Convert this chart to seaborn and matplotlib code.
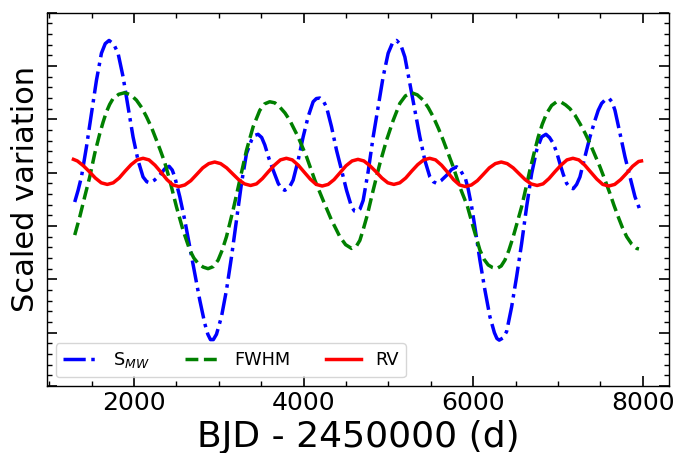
import matplotlib
matplotlib.use("Agg")
import matplotlib.pyplot as plt
import seaborn as sns
import pandas as pd
from matplotlib.ticker import MultipleLocator

# ---- data ----
smw_days = [1300, 1340, 1379, 1438, 1497, 1556, 1615, 1660, 1705, 1760,
            1811, 1870, 1929, 1988, 2047, 2106, 2150, 2185, 2240, 2303,
            2360, 2413, 2450, 2480, 2539, 2598, 2657, 2716, 2775, 2834,
            2870, 2901, 2935, 2972, 3031, 3090, 3149, 3208, 3267, 3326,
            3385, 3425, 3463, 3505, 3542, 3590, 3640, 3700, 3740, 3778,
            3830, 3876, 3935, 3994, 4053, 4112, 4150, 4191, 4230, 4270,
            4329, 4388, 4447, 4506, 4565, 4600, 4630, 4665, 4702, 4761,
            4820, 4879, 4938, 4997, 5050, 5096, 5145, 5194, 5253, 5312,
            5371, 5430, 5489, 5530, 5568, 5620, 5686, 5745, 5804, 5840,
            5880, 5910, 5940, 5980, 6020, 6079, 6138, 6197, 6250, 6280,
            6307, 6350, 6394, 6453, 6512, 6571, 6630, 6689, 6748, 6807,
            6858, 6900, 6944, 6985, 7023, 7062, 7102, 7140, 7180, 7220,
            7259, 7318, 7377, 7436, 7475, 7515, 7560, 7605, 7640, 7672,
            7731, 7790, 7849, 7908, 7967]
smw = [-0.55, -0.33, -0.08, 0.48, 1.11, 1.73, 2.24, 2.42, 2.48, 2.41,
       2.24, 1.80, 1.23, 0.67, 0.23, -0.08, -0.17, -0.19, -0.14, -0.05,
       0.07, 0.12, 0.05, -0.08, -0.45, -0.89, -1.39, -1.89, -2.39, -2.83,
       -3.03, -3.13, -3.13, -3.03, -2.70, -2.20, -1.58, -0.89, -0.20, 0.36,
       0.61, 0.70, 0.72, 0.66, 0.52, 0.27, 0.05, -0.20, -0.30, -0.33,
       -0.28, -0.14, 0.23, 0.67, 1.05, 1.33, 1.39, 1.40, 1.35, 1.23,
       0.86, 0.42, 0.05, -0.33, -0.64, -0.72, -0.73, -0.68, -0.52, 0.02,
       0.67, 1.23, 1.80, 2.24, 2.44, 2.48, 2.40, 2.17, 1.67, 1.17,
       0.67, 0.23, -0.08, -0.17, -0.20, -0.15, -0.05, 0.06, 0.11, 0.07,
       -0.04, -0.12, -0.30, -0.62, -1.02, -1.64, -2.20, -2.70, -3.00, -3.11,
       -3.14, -3.10, -2.98, -2.52, -1.95, -1.33, -0.64, -0.02, 0.42, 0.67,
       0.72, 0.66, 0.55, 0.38, 0.17, -0.03, -0.20, -0.28, -0.30, -0.22,
       -0.08, 0.30, 0.67, 0.98, 1.17, 1.30, 1.37, 1.39, 1.32, 1.17,
       0.74, 0.30, -0.08, -0.45, -0.70]

fwhm_days = [1300, 1359, 1418, 1477, 1536, 1595, 1635, 1674, 1712, 1752,
             1820, 1890, 1960, 2028, 2090, 2146, 2205, 2264, 2310, 2362,
             2421, 2500, 2578, 2657, 2705, 2755, 2815, 2873, 2935, 2991,
             3040, 3090, 3168, 3247, 3326, 3404, 3483, 3540, 3600, 3660,
             3719, 3780, 3837, 3935, 4034, 4132, 4230, 4329, 4380, 4427,
             4495, 4565, 4625, 4663, 4700, 4750, 4820, 4899, 4978, 5056,
             5135, 5200, 5273, 5340, 5410, 5470, 5528, 5590, 5646, 5705,
             5764, 5843, 5880, 5930, 6000, 6079, 6130, 6177, 6230, 6276,
             6330, 6374, 6420, 6472, 6520, 6571, 6620, 6669, 6720, 6767,
             6815, 6866, 6925, 6984, 7040, 7090, 7141, 7200, 7259, 7320,
             7377, 7436, 7495, 7555, 7613, 7660, 7711, 7760, 7810, 7870,
             7928, 7955]
fwhm = [-1.17, -0.83, -0.45, -0.08, 0.36, 0.73, 0.95, 1.14, 1.28, 1.39,
        1.47, 1.50, 1.46, 1.36, 1.22, 1.05, 0.85, 0.61, 0.42, 0.19,
        -0.14, -0.64, -1.08, -1.45, -1.60, -1.70, -1.77, -1.80, -1.76, -1.64,
        -1.45, -1.20, -0.70, -0.14, 0.42, 0.86, 1.17, 1.29, 1.33, 1.31,
        1.23, 1.12, 0.98, 0.67, 0.30, -0.14, -0.52, -0.89, -1.05, -1.20,
        -1.35, -1.42, -1.37, -1.27, -1.08, -0.80, -0.33, 0.17, 0.61, 0.98,
        1.30, 1.44, 1.50, 1.46, 1.36, 1.22, 1.05, 0.83, 0.61, 0.36,
        0.11, -0.27, -0.42, -0.62, -1.02, -1.45, -1.63, -1.73, -1.78, -1.80,
        -1.75, -1.64, -1.46, -1.20, -0.93, -0.64, -0.30, 0.05, 0.38, 0.67,
        0.91, 1.11, 1.26, 1.33, 1.32, 1.27, 1.20, 1.08, 0.92, 0.74,
        0.55, 0.33, 0.11, -0.14, -0.39, -0.61, -0.83, -1.03, -1.20, -1.34,
        -1.42, -1.43]

rv_days = [1285, 1331, 1402, 1472, 1543, 1613, 1684, 1754, 1824, 1895, 1965, 2036,
           2106, 2176, 2247, 2317, 2388, 2458, 2529, 2599, 2669, 2740, 2810, 2881,
           2951, 3021, 3092, 3162, 3233, 3303, 3374, 3444, 3514, 3585, 3655, 3726,
           3796, 3866, 3937, 4007, 4078, 4148, 4219, 4289, 4359, 4430, 4500, 4571,
           4641, 4711, 4782, 4852, 4923, 4993, 5064, 5134, 5204, 5275, 5345, 5416,
           5486, 5556, 5627, 5697, 5768, 5838, 5909, 5979, 6049, 6120, 6190, 6261,
           6331, 6401, 6472, 6542, 6613, 6683, 6754, 6824, 6894, 6965, 7035, 7106,
           7176, 7246, 7317, 7387, 7458, 7528, 7599, 7669, 7739, 7810, 7880, 7951,
           7985]
rv = [0.25, 0.22, 0.13, 0.02, -0.10, -0.19, -0.22, -0.19, -0.10, 0.03, 0.15, 0.24,
      0.27, 0.24, 0.14, 0.01, -0.13, -0.23, -0.26, -0.23, -0.15, -0.03, 0.09, 0.17,
      0.20, 0.17, 0.09, -0.02, -0.13, -0.21, -0.24, -0.21, -0.11, 0.02, 0.14, 0.24,
      0.27, 0.24, 0.14, 0.01, -0.12, -0.22, -0.25, -0.22, -0.13, 0.00, 0.13, 0.22,
      0.25, 0.22, 0.13, 0.02, -0.10, -0.19, -0.22, -0.19, -0.10, 0.03, 0.15, 0.24,
      0.27, 0.24, 0.14, 0.01, -0.13, -0.23, -0.26, -0.23, -0.15, -0.03, 0.09, 0.17,
      0.20, 0.17, 0.09, -0.02, -0.13, -0.21, -0.24, -0.21, -0.11, 0.02, 0.14, 0.24,
      0.27, 0.24, 0.14, 0.01, -0.12, -0.22, -0.25, -0.22, -0.13, -0.01, 0.12, 0.21,
      0.22]

labels = [r'S$_{MW}$', 'FWHM', 'RV']
x_label = 'BJD - 2450000 (d)'
y_label = 'Scaled variation'

df_smw = pd.DataFrame({'day': smw_days, 'value': smw})
df_fwhm = pd.DataFrame({'day': fwhm_days, 'value': fwhm})
df_rv = pd.DataFrame({'day': rv_days, 'value': rv})

plt.rcParams['font.family'] = ['DejaVu Sans']
plt.rcParams['axes.edgecolor'] = 'black'
plt.rcParams['text.color'] = 'black'

fig = plt.figure(figsize=(6.78, 4.53), dpi=100)
ax = fig.add_axes([47 / 678, 1 - 386 / 453, (669.3 - 47) / 678, (386 - 12.7) / 453])

sns.lineplot(data=df_smw, x='day', y='value', ax=ax, color='blue', linestyle='-.',
             linewidth=2.5, label=labels[0], estimator=None, sort=False)
sns.lineplot(data=df_fwhm, x='day', y='value', ax=ax, color='green', linestyle='--',
             linewidth=2.5, label=labels[1], estimator=None, sort=False)
sns.lineplot(data=df_rv, x='day', y='value', ax=ax, color='red', linestyle='-',
             linewidth=2.5, label=labels[2], estimator=None, sort=False)

ax.set_xlim(973, 8313)
ax.set_ylim(-4, 3)
ax.xaxis.set_major_locator(MultipleLocator(2000))
ax.xaxis.set_minor_locator(MultipleLocator(500))
ax.yaxis.set_major_locator(MultipleLocator(1))
ax.yaxis.set_minor_locator(MultipleLocator(0.2))
ax.tick_params(which='both', direction='in', top=True, right=True,
               labelleft=False, colors='black')
ax.tick_params(which='major', length=7, width=1.2, labelsize=18)
ax.tick_params(which='minor', length=3.5, width=1.0)
for s in ax.spines.values():
    s.set_color('black')
    s.set_linewidth(1.0)

ax.set_xlabel(x_label, fontsize=26)
ax.set_ylabel(y_label, fontsize=22)
ax.yaxis.set_label_coords(-0.012, 0.528)
ax.legend(loc='lower left', ncol=3, fontsize=12.75, frameon=True)

fig.savefig('out.png', dpi=100)
